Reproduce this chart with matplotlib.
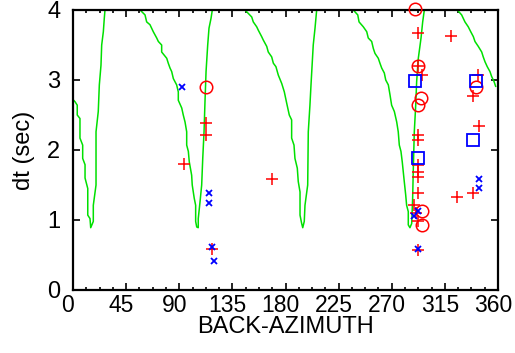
import matplotlib
matplotlib.use("Agg")
import matplotlib.pyplot as plt
import matplotlib.transforms as mtransforms
from matplotlib.ticker import MultipleLocator

plt.rcParams['font.family'] = ['Liberation Sans', 'DejaVu Sans']

# Green curves (back-azimuth, dt), one list per branch
curve1_az = [0.0, 1.7, 3.6, 3.6, 5.9, 5.9, 8.2, 8.2, 10.2, 10.2, 12.5, 12.5, 14.4, 15.0,
             17.2, 17.2, 19.5, 19.5, 21.4, 22.3, 23.7, 24.3, 25.7, 26.5, 27.1]
curve1_dt = [2.72, 2.69, 2.64, 2.50, 2.45, 2.17, 2.07, 1.88, 1.79, 1.60, 1.45, 1.07, 1.02, 0.89,
             0.98, 1.21, 1.50, 2.26, 2.55, 2.93, 3.21, 3.50, 3.69, 3.88, 4.0]

curve2_az = [56.8, 61.0, 62.4, 65.2, 68.0, 70.9, 72.3, 75.1, 75.1, 79.4, 80.7, 82.2, 83.6, 85.0,
             87.8, 89.2, 89.2, 92.1, 93.4, 94.9, 96.3, 96.3, 97.7, 98.5, 100.5, 101.0, 102.7,
             103.9, 103.9, 104.8, 106.1, 106.1, 107.6, 109.0, 109.9, 111.0, 111.8, 112.7, 114.1,
             115.2, 116.9, 118.0]
curve2_dt = [4.0, 3.93, 3.83, 3.79, 3.69, 3.60, 3.55, 3.50, 3.40, 3.31, 3.24, 3.17, 3.12, 3.02,
             2.93, 2.83, 2.71, 2.60, 2.50, 2.40, 2.26, 2.07, 1.98, 1.83, 1.64, 1.50, 1.31,
             1.21, 0.98, 0.90, 0.89, 1.02, 1.26, 1.50, 1.88, 2.26, 2.69, 3.12, 3.50,
             3.74, 3.88, 4.0]

curve3_az = [145.7, 151.4, 152.7, 155.6, 157.0, 159.8, 161.2, 164.1, 165.4, 168.3, 169.7, 171.9,
             173.9, 176.8, 179.0, 181.0, 183.2, 185.2, 185.2, 187.2, 188.0, 190.0, 190.8, 192.3,
             192.3, 193.7, 194.6, 195.9, 196.5, 198.8, 199.3, 200.7, 201.6, 203.5, 205.0, 206.4]
curve3_dt = [4.0, 3.90, 3.83, 3.76, 3.71, 3.62, 3.57, 3.48, 3.40, 3.33, 3.24, 3.19,
             3.07, 2.95, 2.83, 2.67, 2.50, 2.43, 2.17, 2.07, 1.88, 1.74, 1.55, 1.40,
             1.07, 0.95, 0.89, 0.98, 1.21, 1.50, 2.26, 2.64, 2.93, 3.50, 3.74, 4.0]

curve4_az = [237.4, 241.2, 242.3, 245.9, 248.8, 250.1, 253.0, 254.4, 255.8, 258.6, 260.0, 261.5,
             263.7, 264.9, 267.1, 268.5, 269.9, 272.2, 274.2, 275.5, 276.4, 277.8, 278.9, 280.6,
             281.8, 282.6, 284.0, 284.0, 285.4, 286.9, 287.7, 288.2, 289.1, 290.3, 291.1, 292.5,
             294.8, 296.2, 297.6]
curve4_dt = [4.0, 3.93, 3.83, 3.76, 3.69, 3.60, 3.55, 3.45, 3.38, 3.31, 3.24, 3.17,
             3.10, 3.00, 2.93, 2.79, 2.64, 2.55, 2.40, 2.26, 2.07, 1.98, 1.83, 1.55,
             1.36, 1.21, 1.12, 0.93, 0.89, 0.95, 1.31, 1.69, 2.26, 2.64, 2.98, 3.31,
             3.60, 3.83, 4.0]

curve5_az = [325.5, 329.2, 332.0, 334.8, 336.9, 339.1, 340.5, 343.3, 346.2, 347.5, 349.0, 350.9,
             353.2, 354.6, 356.6, 358.0]
curve5_dt = [4.0, 3.93, 3.83, 3.76, 3.69, 3.62, 3.55, 3.48, 3.40, 3.33, 3.26, 3.19,
             3.12, 3.05, 2.98, 2.91]

# Measurements
plus_az = [94.3, 112.4, 112.4, 117.5, 168.6, 291.9, 320.2, 292.5, 295.3, 292.0, 292.0, 292.0,
           292.0, 292.0, 292.0, 289.1, 290.3, 292.0, 292.0, 343.3, 338.5, 343.9, 338.5, 325.0]
plus_dt = [1.80, 2.39, 2.22, 0.58, 1.59, 3.67, 3.63, 3.20, 3.07, 2.21, 2.14, 1.79,
           1.68, 1.62, 1.38, 1.21, 1.10, 0.98, 0.57, 3.07, 2.77, 2.34, 1.39, 1.33]

circle_az = [112.7, 289.7, 292.5, 294.5, 292.0, 295.3, 295.3, 341.4]
circle_dt = [2.90, 4.01, 3.20, 2.74, 2.65, 1.13, 0.93, 2.90]

cross_az = [92.0, 115.2, 115.2, 117.5, 119.7, 292.5, 289.1, 292.0, 343.9, 343.9]
cross_dt = [2.90, 1.38, 1.25, 0.62, 0.41, 1.13, 1.06, 0.58, 1.59, 1.46]

square_az = [289.7, 292.5, 341.4, 339.1]
square_dt = [2.99, 1.89, 2.99, 2.14]

xticks = [0, 45, 90, 135, 180, 225, 270, 315, 360]
yticks = [0, 1, 2, 3, 4]

fig = plt.figure(figsize=(5.15, 3.53), dpi=100)
ax = fig.add_axes([73 / 515, 1 - 290 / 353, 425 / 515, 280 / 353])

green = '#00e000'
for a, d in [(curve1_az, curve1_dt), (curve2_az, curve2_dt), (curve3_az, curve3_dt),
             (curve4_az, curve4_dt), (curve5_az, curve5_dt)]:
    ax.plot(a, d, color=green, lw=1.1, zorder=2)

ax.plot(plus_az, plus_dt, ls='none', marker='+', ms=8.5, mew=1.1, color='#ff0000', zorder=3)
ax.plot(circle_az, circle_dt, ls='none', marker='o', ms=9, mew=1.1, mfc='none',
        mec='#ff0000', zorder=4, clip_on=False)
ax.plot(square_az, square_dt, ls='none', marker='s', ms=9, mew=1.3, mfc='none',
        mec='#0000ff', zorder=5)
ax.plot(cross_az, cross_dt, ls='none', marker='x', ms=4.5, mew=1.3, color='#0000ff', zorder=6)

ax.set_xlim(0, 360)
ax.set_ylim(0, 4)
ax.set_xticks(xticks)
ax.set_xticklabels([str(t) for t in xticks])
ax.set_yticks(yticks)
ax.set_yticklabels([str(t) for t in yticks])
ax.xaxis.set_minor_locator(MultipleLocator(11.25))

ax.tick_params(which='both', direction='in', top=True, right=True, labelsize=17, width=1.2)
ax.tick_params(which='major', length=5)
ax.tick_params(axis='x', which='major', pad=3, labelsize=16.5)
ax.tick_params(axis='y', which='major', pad=9)
ax.tick_params(which='minor', length=2.5)
for s in ax.spines.values():
    s.set_linewidth(1.6)

# shift x tick labels slightly left, as in the reference
shift = mtransforms.ScaledTranslation(-5 / 100, 0, fig.dpi_scale_trans)
for lbl in ax.get_xticklabels():
    lbl.set_transform(lbl.get_transform() + shift)

ax.set_xlabel('BACK-AZIMUTH', fontsize=17, labelpad=-1)
ax.set_ylabel('dt (sec)', fontsize=17, labelpad=9)

fig.savefig('out.png', dpi=100)
